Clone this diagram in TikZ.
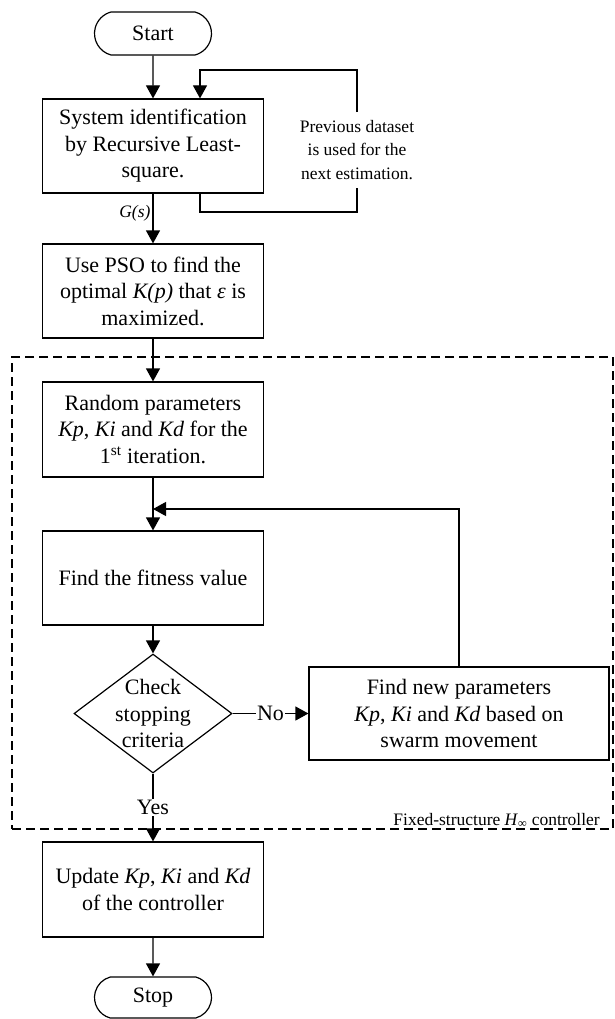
\documentclass[tikz,border=0pt]{standalone}
\usepackage{fontspec}
\setmainfont{Liberation Serif}
\usetikzlibrary{shapes.geometric,shapes.misc,arrows.meta}
\begin{document}
\begin{tikzpicture}[x=1pt,y=-1pt,
  every node/.style={font=\fontsize{22}{26.5}\selectfont},
  box/.style={draw, line width=1.2pt, minimum width=221pt, minimum height=94pt, align=center, inner sep=2pt},
  term/.style={draw, line width=1.2pt, rounded rectangle, rounded rectangle arc length=150, minimum width=117pt, minimum height=43pt, inner sep=0pt},
  dshape/.style={draw, diamond, line width=1.2pt, minimum width=158pt, minimum height=119pt, inner sep=0pt},
  conn/.style={line width=1.2pt},
  arr/.style={conn, -{Triangle[width=14pt,length=13pt]}},
  small/.style={font=\fontsize{17.5}{23.5}\selectfont},
  frame/.style={draw, dash pattern=on 9pt off 5pt, line width=1.2pt, minimum width=601pt, minimum height=472pt, inner sep=0pt},
  lbl/.style={fill=white, inner sep=1.5pt}
]
\useasboundingbox (0,0) rectangle (614,1019);

% dashed frame
\node[frame] (frame) at (312.5,593) {};
\node[small, anchor=base east, inner sep=0pt] (flabel) at (600,825) {Fixed-structure \textit{H}\textsubscript{∞} controller};

% nodes
\node[term] (start) at (153,33.5) {Start};
\node[box] (b1) at (153,146) {System identification\\by Recursive Least-\\square.};
\node[box] (b2) at (153,291) {Use PSO to find the\\optimal \textit{K(p)} that \textit{ε} is\\maximized.};
\node[box, minimum height=95pt] (b3) at (153,429.5) {Random parameters\\\textit{Kp}, \textit{Ki} and \textit{Kd} for the\\1\textsuperscript{st} iteration.};
\node[box] (b4) at (153,578) {Find the fitness value};
\node[dshape] (d) at (153,713.5) {};
\node[align=center, inner sep=0pt] (dtext) at (d.center) {Check\\stopping\\criteria};
\node[box, minimum width=300pt, minimum height=93pt] (b6) at (459,713.5) {Find new parameters\\\textit{Kp}, \textit{Ki} and \textit{Kd} based on\\swarm movement};
\node[box, minimum height=95pt] (b5) at (153,889.5) {Update \textit{Kp}, \textit{Ki} and \textit{Kd}\\of the controller};
\node[term, minimum height=41pt] (stop) at (153,997.5) {Stop};

\node[small, align=center, inner xsep=2pt, inner ysep=8pt] (prev) at (357,150) {Previous dataset\\is used for the\\next estimation.};

% connectors
\draw[arr] (start) -- (b1);
\draw[arr] (b1) -- node[small, left, pos=0.4, inner sep=2pt]{\textit{G(s)}} (b2);
\draw[arr] (b2) -- (b3);
\draw[arr] (b3) -- (b4);
\draw[arr] (b4) -- (d);
\draw[arr] (d.east) -- node[lbl]{No} (b6.west);
\draw[arr] (d.south) -- node[lbl]{Yes} (b5.north);
\draw[arr] (b5) -- (stop);

\coordinate (join) at (153,509);
\draw[arr] (b6.north) |- (join);

\coordinate (fbBL) at (200,212);
\coordinate (fbBR) at (357,212);
\coordinate (fbTR) at (357,70);
\coordinate (fbTL) at (200,70);
\draw[conn] (b1.south -| fbBL) -- (fbBL) -- (fbBR) -- (prev.south);
\draw[arr] (prev.north) -- (fbTR) -- (fbTL) -- (b1.north -| fbTL);
\end{tikzpicture}
\end{document}
